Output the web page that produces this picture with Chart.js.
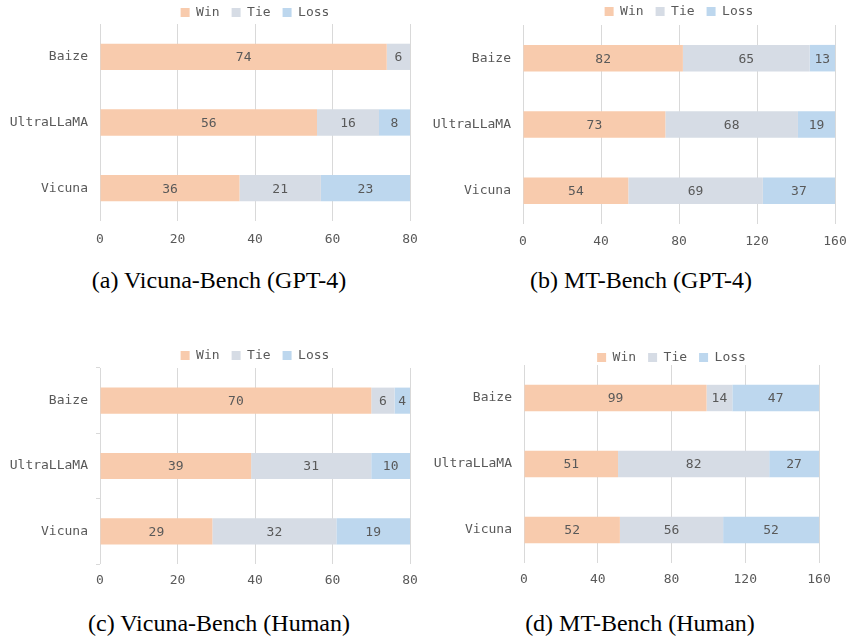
<!DOCTYPE html>
<html>
<head>
<meta charset="utf-8">
<script src="https://cdn.jsdelivr.net/npm/chart.js@4.4.1/dist/chart.umd.min.js"></script>
<style>
  body { margin: 0; background: #fff; }
  #page { position: relative; width: 849px; height: 638px; overflow: hidden; }
  .panel { position: absolute; }
  .caption {
    position: absolute; width: 420px; text-align: center;
    font-family: "Liberation Serif", "Times New Roman", serif;
    font-size: 24px; line-height: 24px; color: #000;
  }
</style>
</head>
<body>
<div id="page">
  <div class="panel" id="pa"><canvas id="chart-a"></canvas></div>
  <div class="panel" id="pb"><canvas id="chart-b"></canvas></div>
  <div class="panel" id="pc"><canvas id="chart-c"></canvas></div>
  <div class="panel" id="pd"><canvas id="chart-d"></canvas></div>
  <div class="caption" style="left:9px; top:268px;">(a) Vicuna-Bench (GPT-4)</div>
  <div class="caption" style="left:431px; top:268px;">(b) MT-Bench (GPT-4)</div>
  <div class="caption" style="left:9px; top:611px;">(c) Vicuna-Bench (Human)</div>
  <div class="caption" style="left:430px; top:611px;">(d) MT-Bench (Human)</div>
</div>
<script>
  const models = ['Baize', 'UltraLLaMA', 'Vicuna'];
  const seriesNames = ['Win', 'Tie', 'Loss'];
  const seriesColors = ['#F8CBAD', '#D6DCE5', '#BDD7EE'];

  // (a) Vicuna-Bench, GPT-4 judge
  const vicunaGpt4Win = [74, 56, 36];
  const vicunaGpt4Tie = [6, 16, 21];
  const vicunaGpt4Loss = [0, 8, 23];
  // (b) MT-Bench, GPT-4 judge
  const mtGpt4Win = [82, 73, 54];
  const mtGpt4Tie = [65, 68, 69];
  const mtGpt4Loss = [13, 19, 37];
  // (c) Vicuna-Bench, human judge
  const vicunaHumanWin = [70, 39, 29];
  const vicunaHumanTie = [6, 31, 32];
  const vicunaHumanLoss = [4, 10, 19];
  // (d) MT-Bench, human judge
  const mtHumanWin = [99, 51, 52];
  const mtHumanTie = [14, 82, 56];
  const mtHumanLoss = [47, 27, 52];

  const vicunaTicks = [0, 20, 40, 60, 80];
  const mtTicks = [0, 40, 80, 120, 160];

  const monoFont = '"DejaVu Sans Mono", "Liberation Mono", monospace';
  const textColor = '#595959';
  const gridColor = '#d9d9d9';

  // writes the value in the middle of each bar segment
  const segmentLabels = {
    id: 'segmentLabels',
    afterDatasetsDraw(chart) {
      const ctx = chart.ctx;
      ctx.save();
      ctx.font = '13px ' + monoFont;
      ctx.fillStyle = textColor;
      ctx.textAlign = 'center';
      ctx.textBaseline = 'middle';
      chart.data.datasets.forEach((ds, i) => {
        const meta = chart.getDatasetMeta(i);
        meta.data.forEach((bar, j) => {
          const v = ds.data[j];
          if (!v) return;
          const p = bar.getProps(['x', 'y', 'base'], true);
          ctx.fillText(String(v), (p.x + p.base) / 2, p.y + 1);
        });
      });
      ctx.restore();
    }
  };

  function makeChart(id, box, win, tie, loss, ticks) {
    const holder = document.getElementById(box.holder);
    holder.style.left = box.left + 'px';
    holder.style.top = box.top + 'px';
    holder.style.width = box.width + 'px';
    holder.style.height = box.height + 'px';

    const values = [win, tie, loss];
    new Chart(document.getElementById(id).getContext('2d'), {
      type: 'bar',
      data: {
        labels: models,
        datasets: seriesNames.map((name, k) => ({
          label: name,
          data: values[k],
          backgroundColor: seriesColors[k],
          borderWidth: 0,
          barPercentage: 0.4,
          categoryPercentage: 1
        }))
      },
      options: {
        indexAxis: 'y',
        responsive: true,
        maintainAspectRatio: false,
        animation: false,
        layout: { padding: { left: 0, right: box.padRight, top: 0, bottom: 0 } },
        plugins: {
          legend: {
            position: 'top',
            fullSize: false,
            maxHeight: box.legendH,
            labels: {
              boxWidth: 9,
              boxHeight: 9,
              padding: 12,
              color: textColor,
              font: { family: monoFont, size: 13 }
            }
          },
          tooltip: { enabled: false }
        },
        scales: {
          x: {
            stacked: true,
            min: 0,
            max: ticks[ticks.length - 1],
            afterBuildTicks: s => { s.ticks = ticks.map(v => ({ value: v })); },
            afterFit: s => {
              s.height = box.xH;
              s.paddingLeft = 0;
              s.paddingRight = 0;
            },
            border: { display: false },
            grid: { color: gridColor, drawTicks: false },
            ticks: {
              padding: box.xPad,
              color: textColor,
              font: { family: monoFont, size: 13 }
            }
          },
          y: {
            stacked: true,
            afterFit: s => { s.width = box.yWidth; },
            border: { display: false },
            grid: {
              display: box.yMarks,
              drawOnChartArea: false,
              drawTicks: true,
              tickLength: 4,
              color: gridColor
            },
            ticks: {
              padding: 8,
              color: textColor,
              font: { family: monoFont, size: 13 }
            }
          }
        }
      },
      plugins: [segmentLabels]
    });
  }

  makeChart('chart-a',
    { holder: 'pa', left: 0, top: -6, width: 425, height: 257, legendH: 30, xH: 30, xPad: 11, yWidth: 100, padRight: 15, yMarks: false },
    vicunaGpt4Win, vicunaGpt4Tie, vicunaGpt4Loss, vicunaTicks);
  makeChart('chart-b',
    { holder: 'pb', left: 425, top: -7, width: 424, height: 261, legendH: 32, xH: 30, xPad: 10, yWidth: 98, padRight: 14, yMarks: false },
    mtGpt4Win, mtGpt4Tie, mtGpt4Loss, mtTicks);
  makeChart('chart-c',
    { holder: 'pc', left: 0, top: 337, width: 425, height: 257, legendH: 31, xH: 30, xPad: 9, yWidth: 100, padRight: 15, yMarks: true },
    vicunaHumanWin, vicunaHumanTie, vicunaHumanLoss, vicunaTicks);
  makeChart('chart-d',
    { holder: 'pd', left: 425, top: 339, width: 424, height: 254, legendH: 26, xH: 30, xPad: 9, yWidth: 99, padRight: 30, yMarks: false },
    mtHumanWin, mtHumanTie, mtHumanLoss, mtTicks);
</script>
</body>
</html>
